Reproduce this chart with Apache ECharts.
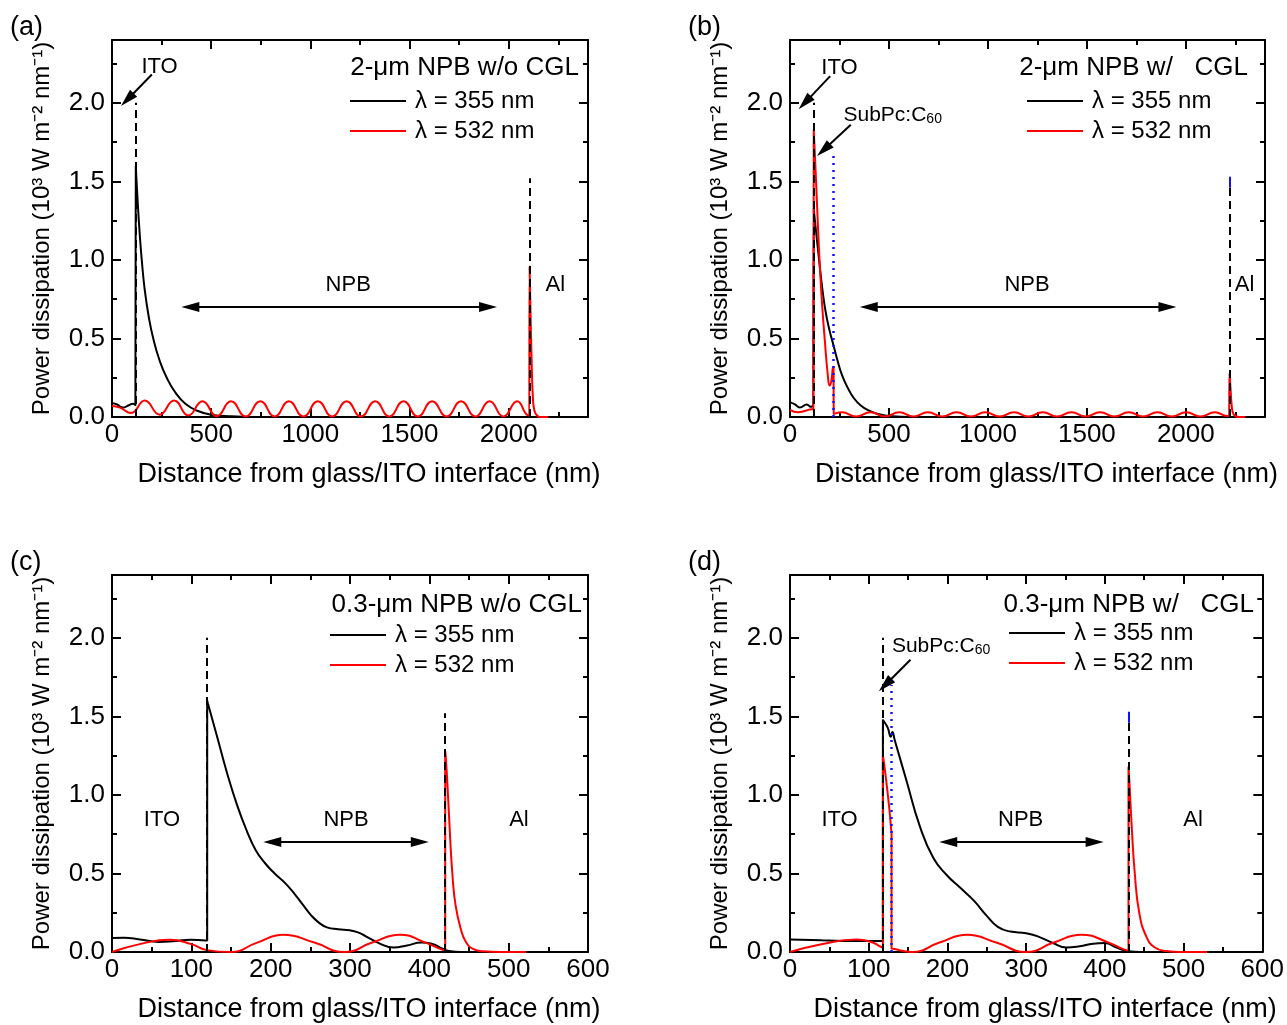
<!DOCTYPE html>
<html><head><meta charset="utf-8">
<script src="https://cdn.jsdelivr.net/npm/echarts@6/dist/echarts.min.js"></script>
<style>html,body{margin:0;padding:0;background:#fff}#c{width:1287px;height:1025px}</style>
</head><body><div id="c"></div>
<script>
// ---------------- data (nm, 10^3 W m^-2 nm^-1) ----------------
const seriesNames = ['λ = 355 nm', 'λ = 532 nm'];
const xName = 'Distance from glass/ITO interface (nm)';
const yName = 'Power dissipation (10³ W m⁻² nm⁻¹)';
const headers = ['2-μm NPB w/o CGL', '2-μm NPB w/   CGL', '0.3-μm NPB w/o CGL', '0.3-μm NPB w/   CGL'];
const letters = ['(a)', '(b)', '(c)', '(d)'];
const xMaxes = [2400, 2400, 600, 600];
const xIntervals = [500, 500, 100, 100];
const yMax = 2.4, yInterval = 0.5;

// (a) 2-um NPB without CGL
const a355 = [[0,0.09],[25,0.08],[55,0.06],[85,0.075],[105,0.085],[118,0.076],[120,0.075],[120,1.60],[121,1.57],[130,1.36],[140,1.16],[150,1.0],[165,0.81],[185,0.64],[208,0.50],[240,0.36],[276,0.25],[320,0.155],[370,0.085],[430,0.04],[500,0.015],[600,0.004],[720,0],[2104,0],[2200,0]];
const a532 = [[0,0.07],[40,0.06],[96,0.025],[165,0.105],[240,0.015],[313,0.105],[385,0.01],[456,0.1],[528,0.005],[600,0.1],[674,0.003],[748,0.1],[820,0.003],[892,0.1],[965,0.003],[1038,0.1],[1110,0.003],[1183,0.1],[1255,0.003],[1327,0.1],[1398,0.003],[1470,0.1],[1542,0.003],[1614,0.1],[1687,0.003],[1760,0.1],[1832,0.003],[1904,0.1],[1973,0.003],[2043,0.1],[2095,0.012],[2104,0.01],[2105,0.01],[2105,0.96],[2106,0.92],[2110,0.68],[2116,0.35],[2122,0.13],[2130,0.04],[2145,0.006],[2160,0],[2200,0]];
// (b) 2-um NPB with CGL
const b355 = [[0,0.095],[25,0.08],[50,0.06],[85,0.08],[105,0.065],[118,0.074],[120,0.075],[120,1.33],[121,1.31],[130,1.2],[147,1.0],[162,0.83],[180,0.67],[200,0.55],[217,0.47],[240,0.36],[262,0.27],[290,0.19],[320,0.125],[356,0.075],[400,0.04],[450,0.017],[520,0.004],[600,0],[2300,0]];
const b532 = [[0,0.045],[40,0.03],[80,0.04],[108,0.05],[118,0.046],[120,0.045],[120,1.83],[121,1.80],[130,1.55],[140,1.25],[150,0.98],[162,0.72],[177,0.47],[190,0.28],[200,0.2],[209,0.23],[216,0.31],[220,0.32],[221,0.32],[221,0.02],[224,0.018],[262,0.03],[334,0.003],[407,0.03],[479,0.003],[552,0.03],[624,0.003],[697,0.03],[769,0.003],[842,0.03],[914,0.003],[987,0.03],[1059,0.003],[1132,0.03],[1204,0.003],[1277,0.03],[1349,0.003],[1422,0.03],[1494,0.003],[1567,0.03],[1639,0.003],[1712,0.03],[1784,0.003],[1857,0.03],[1929,0.003],[2002,0.03],[2074,0.003],[2147,0.03],[2210,0.006],[2219,0.01],[2220,0.01],[2220,0.28],[2221,0.27],[2226,0.18],[2232,0.07],[2240,0.02],[2255,0.003],[2270,0],[2300,0]];
// (c) 0.3-um NPB without CGL
const c355 = [[0,0.089],[15,0.09],[35,0.08],[59,0.064],[80,0.07],[99,0.078],[118,0.074],[120,0.074],[120,1.60],[121,1.58],[132,1.38],[145,1.14],[158,0.93],[170,0.77],[181,0.65],[193,0.565],[205,0.50],[218,0.44],[230,0.37],[240,0.305],[250,0.24],[260,0.19],[271,0.157],[285,0.145],[300,0.138],[310,0.125],[320,0.10],[337,0.055],[355,0.028],[372,0.042],[390,0.06],[403,0.053],[415,0.025],[425,0.006],[440,0],[522,0]];
const c532 = [[0,0],[35,0.05],[73,0.078],[100,0.05],[119.5,0.012],[150,0],[183,0.06],[216,0.11],[255,0.06],[293,0],[328,0.06],[363,0.11],[395,0.06],[416,0.015],[419,0.012],[420,0.012],[420,1.28],[421,1.22],[423,1.05],[426,0.75],[429,0.5],[433,0.3],[440,0.14],[446,0.065],[455,0.02],[468,0.004],[490,0],[522,0]];
// (d) 0.3-um NPB with CGL
const d355 = [[0,0.08],[40,0.075],[85,0.07],[116,0.07],[118,0.07],[118,1.48],[119,1.47],[124,1.43],[128,1.37],[130,1.40],[133,1.35],[148,1.09],[165,0.80],[182,0.60],[199,0.49],[216,0.41],[233,0.33],[250,0.23],[264,0.16],[280,0.13],[300,0.12],[317,0.095],[334,0.057],[351,0.028],[368,0.036],[385,0.053],[400,0.057],[415,0.028],[430,0.005],[445,0],[530,0]];
const d532 = [[0,0],[40,0.05],[85,0.08],[105,0.06],[116,0.032],[118,0.03],[118,1.25],[119,1.22],[122,1.1],[126,0.92],[128.5,0.78],[129,0.75],[129,0.02],[130,0.02],[140,0.01],[155,0],[190,0.06],[225,0.11],[262,0.06],[300,0],[335,0.06],[370,0.11],[405,0.06],[427,0.012],[430,0.01],[430,1.18],[431,1.1],[434,0.81],[438,0.5],[444,0.24],[453,0.095],[463,0.03],[478,0.006],[495,0],[530,0]];

// layer boundaries: position, bottom, height, kind
const aBoundX = [120, 2105], aBoundLow = [0, 0], aBoundTop = [2.0, 1.52], aBoundKind = ['dash','dash'];
const bBoundX = [120, 221, 2220, 2220], bBoundLow = [0, 0, 0, 1.46], bBoundTop = [2.0, 1.68, 1.46, 1.53], bBoundKind = ['dash','dot','dash','blue'];
const cBoundX = [120, 420], cBoundLow = [0, 0], cBoundTop = [2.0, 1.52], cBoundKind = ['dash','dash'];
const dBoundX = [118, 129, 430, 430], dBoundLow = [0, 0, 0, 1.46], dBoundTop = [2.0, 1.70, 1.46, 1.53], dBoundKind = ['dash','dot','dash','blue'];

// annotation arrows: [x1,y1,x2,y2,double]
const aArrows = [[201,2.18,77,2.02,0],[395,0.70,1896,0.70,1]];
const bArrows = [[203,2.17,75,2.0,0],[307,1.86,170,1.70,0],[398,0.70,1907,0.70,1]];
const cArrows = [[202,0.70,388,0.70,1]];
const dArrows = [[153,1.86,121,1.70,0],[201,0.70,387,0.70,1]];

// annotation texts: [label, x, y]
const aTexts = [['ITO',240,2.23],['NPB',1191,0.84],['Al',2235,0.84]];
const bTexts = [['ITO',250,2.22],['SubPc',519,1.92],['NPB',1198,0.84],['Al',2297,0.84]];
const cTexts = [['ITO',63,0.84],['NPB',295,0.84],['Al',513,0.84]];
const dTexts = [['ITO',63,0.84],['SubPc',192,1.945],['NPB',293,0.84],['Al',512,0.84]];

// ---------------- layout ----------------
const FONT = '"Liberation Sans", Arial, Helvetica, sans-serif';
const grids = [
  {left:112, top:40, width:476, height:377},
  {left:790, top:40, width:475, height:377},
  {left:112, top:575, width:476, height:377},
  {left:790, top:575, width:475, height:377}
];
const legendPos = [[350,89],[1027,89],[330,623],[1009,621]];
const headerPos = [[579,68],[1248,68],[582,605],[1254,605]];
const letterPos = [[10,28],[688,28],[10,563],[688,563]];

const panels = [
  {black:a355, red:a532, bx:aBoundX, bl:aBoundLow, bt:aBoundTop, bk:aBoundKind, arrows:aArrows, texts:aTexts},
  {black:b355, red:b532, bx:bBoundX, bl:bBoundLow, bt:bBoundTop, bk:bBoundKind, arrows:bArrows, texts:bTexts},
  {black:c355, red:c532, bx:cBoundX, bl:cBoundLow, bt:cBoundTop, bk:cBoundKind, arrows:cArrows, texts:cTexts},
  {black:d355, red:d532, bx:dBoundX, bl:dBoundLow, bt:dBoundTop, bk:dBoundKind, arrows:dArrows, texts:dTexts}
];

function axisSet(dim, gi, max, interval) {
  const hideMax = Math.abs(max / interval - Math.round(max / interval)) > 1e-9;
  const pos = dim === 'x' ? ['bottom', 'top'] : ['left', 'right'];
  const base = {
    type: 'value', gridIndex: gi, min: 0, max: max, splitLine: {show: false},
    axisLine: {show: true, onZero: false, lineStyle: {color: '#000', width: 2}}
  };
  const tick = (len) => ({show: true, inside: true, length: len, lineStyle: {color: '#000', width: 2}});
  const out = [];
  out.push(Object.assign({}, base, {
    position: pos[0], interval: interval, axisTick: tick(9),
    axisLabel: {show: true, color: '#000', fontSize: 26, fontFamily: FONT, margin: dim === 'x' ? 5 : 7,
      showMaxLabel: !hideMax, showMinLabel: true,
      formatter: dim === 'y' ? (v => v.toFixed(1)) : (v => String(v))},
    name: dim === 'x' ? xName : yName, nameLocation: 'middle',
    nameGap: dim === 'x' ? 44 : 58,
    nameTextStyle: dim === 'x'
      ? {fontSize: 27, color: '#000', fontFamily: FONT, padding: [0, 0, 0, 38]}
      : {fontSize: 24, color: '#000', fontFamily: FONT}
  }));
  out.push(Object.assign({}, base, {position: pos[0], interval: interval / 2, axisTick: tick(5), axisLabel: {show: false}, axisLine: {show: false, onZero: false}}));
  out.push(Object.assign({}, base, {position: pos[1], interval: interval, axisTick: tick(9), axisLabel: {show: false}}));
  out.push(Object.assign({}, base, {position: pos[1], interval: interval / 2, axisTick: tick(5), axisLabel: {show: false}, axisLine: {show: false, onZero: false}}));
  return out;
}

const lineKinds = {
  dash: {color: '#000', width: 2, type: [8, 5]},
  dot: {color: '#1010ff', width: 2.5, type: [2, 5]},
  blue: {color: '#1010ff', width: 2, type: 'solid'}
};

const xAxis = [], yAxis = [], series = [], legend = [], graphic = [];
panels.forEach((p, gi) => {
  xAxis.push(...axisSet('x', gi, xMaxes[gi], xIntervals[gi]));
  yAxis.push(...axisSet('y', gi, yMax, yInterval));
  const ax = {xAxisIndex: gi * 4, yAxisIndex: gi * 4};
  series.push(Object.assign({type: 'line', name: seriesNames[0], data: p.black, symbol: 'none', showSymbol: false,
    smooth: 0.5, lineStyle: {color: '#000', width: 2}, itemStyle: {color: '#000'}, z: 2, silent: true}, ax));
  series.push(Object.assign({type: 'line', name: seriesNames[1], data: p.red, symbol: 'none', showSymbol: false,
    smooth: 0.5, lineStyle: {color: '#ff0000', width: 2}, itemStyle: {color: '#ff0000'}, z: 3, silent: true}, ax));

  const ml = [];
  p.bx.forEach((x, i) => {
    ml.push([{coord: [x, p.bl[i]], symbol: 'none', lineStyle: Object.assign({}, lineKinds[p.bk[i]])},
             {coord: [x, p.bt[i]], symbol: 'none'}]);
  });
  p.arrows.forEach(a => {
    ml.push([{coord: [a[0], a[1]], symbol: a[4] ? 'triangle' : 'none', symbolSize: [10, 18], lineStyle: {color: '#000', width: 2, type: 'solid'}},
             {coord: [a[2], a[3]], symbol: 'triangle', symbolSize: [10, 18]}]);
  });
  const mp = p.texts.map(t => {
    if (t[0] === 'SubPc') {
      return {name: 'SubPc:C60', coord: [t[1], t[2]], label: {formatter: '{m|SubPc:C}{s|60}',
        rich: {m: {fontSize: 21, fontFamily: FONT, color: '#000'}, s: {fontSize: 14, fontFamily: FONT, color: '#000', verticalAlign: 'bottom', padding: [8, 0, 0, 0]}}}};
    }
    return {name: t[0], coord: [t[1], t[2]]};
  });
  series.push(Object.assign({type: 'line', name: 'ann' + gi, data: [], symbol: 'none', z: 5, silent: true,
    markLine: {silent: true, animation: false, symbol: 'none', label: {show: false}, emphasis: {disabled: true}, data: ml},
    markPoint: {silent: true, animation: false, symbol: 'rect', symbolSize: 1, itemStyle: {color: 'rgba(0,0,0,0)'},
      label: {show: true, position: 'inside', color: '#000', fontSize: 22, fontFamily: FONT, formatter: '{b}'}, data: mp}
  }, ax));

  legend.push({left: legendPos[gi][0], top: legendPos[gi][1], orient: 'vertical', padding: 0, itemGap: 6,
    itemWidth: 56, itemHeight: 2, icon: 'rect', data: seriesNames, selectedMode: false,
    textStyle: {fontSize: 24, color: '#000', fontFamily: FONT, padding: [0, 0, 0, 4], lineHeight: 24}});
  graphic.push({type: 'text', x: headerPos[gi][0], y: headerPos[gi][1],
    style: {text: headers[gi], align: 'right', verticalAlign: 'middle', fontSize: 26, fontFamily: FONT, fill: '#000'}});
  graphic.push({type: 'text', x: letterPos[gi][0], y: letterPos[gi][1],
    style: {text: letters[gi], align: 'left', verticalAlign: 'middle', fontSize: 27, fontFamily: FONT, fill: '#000'}});
});

const chart = echarts.init(document.getElementById('c'), null, {renderer: 'canvas'});
chart.setOption({
  animation: false,
  backgroundColor: '#fff',
  grid: grids.map(g => Object.assign({containLabel: false}, g)),
  xAxis, yAxis, series, legend, graphic
});
</script></body></html>
